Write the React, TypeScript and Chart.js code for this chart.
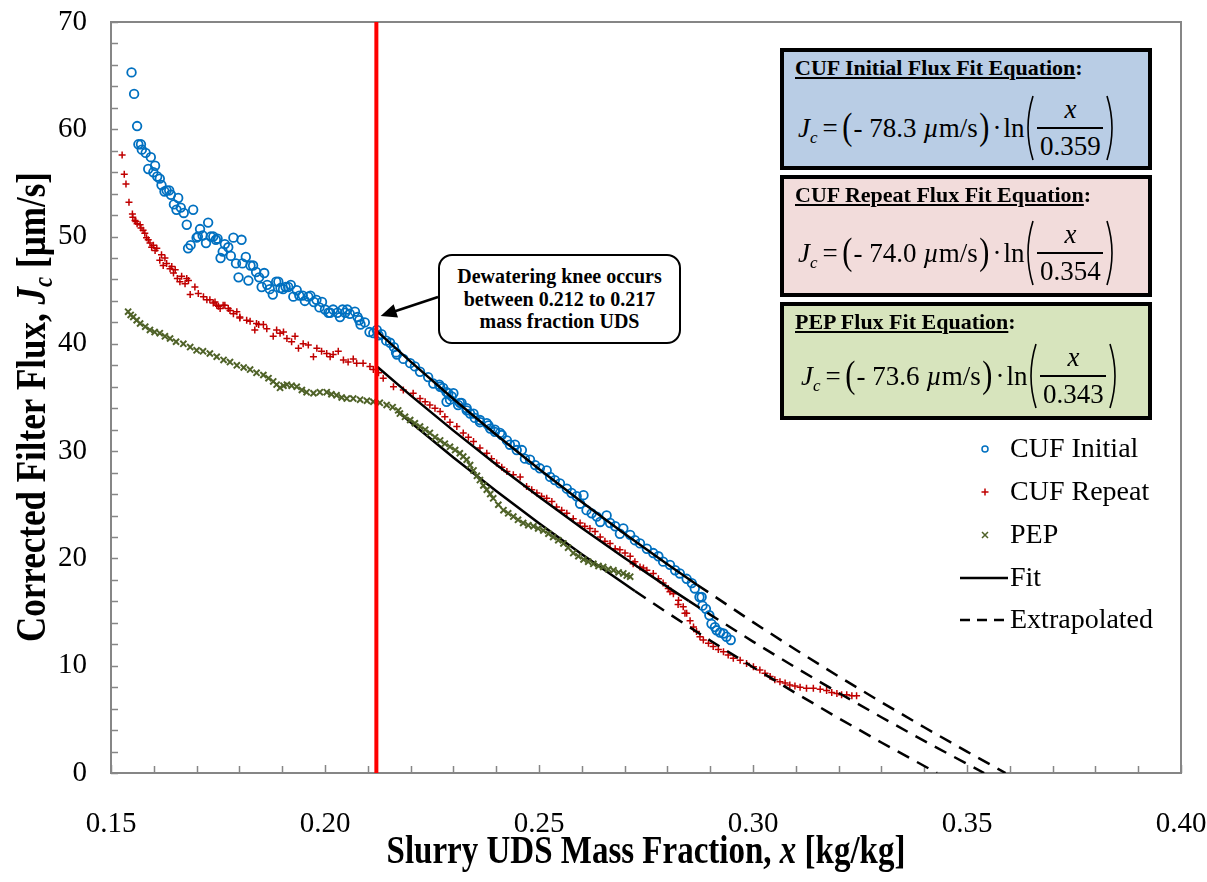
import React, { useEffect, useRef } from 'react';
import { Chart, registerables } from 'chart.js';

Chart.register(...registerables);

const W = 1207;
const H = 882;
const SERIF = "'Liberation Serif', 'Times New Roman', serif";

// ---- axis ticks ----
const xTickValues = [0.15, 0.2, 0.25, 0.3, 0.35, 0.4];
const yTickValues = [0, 10, 20, 30, 40, 50, 60, 70];

// ---- knee ----
const kneeX = 0.212;

// ---- CUF Initial (blue circles) ----
const blueX = [0.1548,0.1554,0.1561,0.1564,0.1570,0.1572,0.1581,0.1587,0.1593,0.1599,0.1603,0.1608,0.1614,0.1618,0.1625,0.1630,0.1636,0.1640,0.1647,0.1653,0.1657,0.1663,0.1670,0.1677,0.1680,0.1686,0.1692,0.1700,0.1703,0.1708,0.1714,0.1722,0.1727,0.1733,0.1739,0.1745,0.1749,0.1756,0.1761,0.1766,0.1774,0.1780,0.1786,0.1792,0.1798,0.1805,0.1807,0.1815,0.1821,0.1826,0.1832,0.1839,0.1846,0.1852,0.1858,0.1865,0.1871,0.1878,0.1886,0.1891,0.1896,0.1902,0.1908,0.1914,0.1920,0.1926,0.1934,0.1940,0.1948,0.1953,0.1961,0.1966,0.1974,0.1980,0.1987,0.1993,0.2000,0.2008,0.2012,0.2019,0.2029,0.2035,0.2041,0.2047,0.2052,0.2058,0.2070,0.2076,0.2080,0.2083,0.2093,0.2104,0.2113,0.2121,0.2125,0.2132,0.2143,0.2152,0.2161,0.2166,0.2168,0.2183,0.2199,0.2210,0.2222,0.2241,0.2253,0.2267,0.2269,0.2276,0.2284,0.2288,0.2284,0.2292,0.2296,0.2300,0.2311,0.2315,0.2319,0.2331,0.2331,0.2339,0.2347,0.2350,0.2362,0.2362,0.2378,0.2382,0.2386,0.2397,0.2397,0.2409,0.2413,0.2425,0.2432,0.2444,0.2448,0.2460,0.2467,0.2479,0.2491,0.2502,0.2518,0.2526,0.2537,0.2549,0.2565,0.2576,0.2588,0.2596,0.2604,0.2611,0.2623,0.2635,0.2643,0.2658,0.2666,0.2678,0.2689,0.2697,0.2713,0.2724,0.2736,0.2752,0.2767,0.2779,0.2790,0.2806,0.2818,0.2829,0.2845,0.2857,0.2864,0.2875,0.2880,0.2882,0.2890,0.2898,0.2903,0.2911,0.2915,0.2923,0.2931,0.2938,0.2948];
const blueY = [65.3,63.3,60.3,58.6,58.6,58.1,57.8,56.3,57.4,56.0,56.6,55.6,55.4,54.8,54.2,54.3,54.3,53.9,53.0,52.5,53.6,52.7,52.2,51.1,48.9,49.2,52.5,49.9,50.0,50.7,50.1,49.4,51.3,50.0,50.0,49.7,49.8,48.0,48.6,49.3,49.0,48.2,49.9,47.5,46.2,49.7,47.5,48.1,45.9,47.3,47.3,46.7,46.2,45.3,46.6,45.5,45.1,44.6,45.8,45.8,45.2,45.1,45.3,45.3,45.5,44.4,45.0,44.5,44.5,44.0,44.4,44.5,43.9,44.1,43.4,43.9,43.2,42.9,42.9,43.2,42.9,42.5,43.2,42.9,43.2,42.8,43.0,42.5,42.2,41.8,42.0,41.1,41.0,41.3,40.8,40.9,40.3,40.1,39.7,39.2,39.0,38.6,38.2,37.9,37.4,36.9,36.3,36.2,36.0,35.9,35.5,35.4,34.6,34.8,35.1,35.4,34.3,34.5,34.5,33.8,34.0,33.5,33.5,33.1,32.7,32.9,32.6,32.4,32.1,31.8,32.0,31.7,31.5,31.0,30.6,30.6,30.1,30.1,29.3,29.2,28.7,28.4,28.2,27.6,27.3,27.0,26.5,26.1,25.8,25.1,25.9,24.5,24.2,23.9,23.4,24.0,23.3,23.0,22.3,22.8,22.2,21.7,21.4,20.9,20.5,20.2,19.7,19.4,18.9,18.6,18.1,17.7,17.2,16.4,16.4,15.6,15.3,14.7,13.9,13.6,13.3,13.1,13.0,12.7,12.4];

// ---- CUF Repeat (red crosses) ----
const redX = [0.1526,0.1531,0.1535,0.1542,0.1550,0.1551,0.1556,0.1558,0.1561,0.1568,0.1570,0.1575,0.1579,0.1583,0.1587,0.1591,0.1595,0.1599,0.1603,0.1607,0.1614,0.1618,0.1622,0.1626,0.1630,0.1638,0.1642,0.1646,0.1650,0.1655,0.1661,0.1665,0.1673,0.1677,0.1681,0.1685,0.1696,0.1704,0.1716,0.1724,0.1731,0.1739,0.1743,0.1747,0.1751,0.1755,0.1762,0.1766,0.1774,0.1778,0.1786,0.1794,0.1801,0.1801,0.1817,0.1825,0.1836,0.1840,0.1845,0.1856,0.1864,0.1879,0.1887,0.1895,0.1903,0.1911,0.1922,0.1930,0.1938,0.1949,0.1961,0.1973,0.1981,0.1992,0.2004,0.2012,0.2019,0.2031,0.2043,0.2054,0.2066,0.2074,0.2089,0.2105,0.2113,0.2125,0.2136,0.2160,0.2183,0.2206,0.2222,0.2234,0.2245,0.2257,0.2269,0.2280,0.2292,0.2308,0.2323,0.2335,0.2347,0.2362,0.2378,0.2389,0.2401,0.2413,0.2425,0.2440,0.2456,0.2471,0.2483,0.2495,0.2506,0.2518,0.2530,0.2541,0.2553,0.2565,0.2580,0.2596,0.2607,0.2619,0.2631,0.2643,0.2654,0.2666,0.2678,0.2689,0.2701,0.2713,0.2720,0.2724,0.2736,0.2744,0.2752,0.2767,0.2779,0.2790,0.2802,0.2806,0.2814,0.2825,0.2826,0.2837,0.2841,0.2845,0.2853,0.2861,0.2868,0.2876,0.2884,0.2896,0.2907,0.2919,0.2931,0.2942,0.2954,0.2970,0.2985,0.3001,0.3016,0.3028,0.3040,0.3051,0.3063,0.3075,0.3086,0.3098,0.3110,0.3125,0.3141,0.3157,0.3172,0.3184,0.3196,0.3207,0.3219,0.3231,0.3242];
const redY = [57.6,55.8,54.9,53.2,52.1,51.8,51.5,51.4,51.2,51.1,50.8,50.6,50.3,49.9,49.7,49.4,49.0,49.2,48.7,48.9,47.8,48.3,47.3,48.0,47.5,47.0,47.2,46.6,46.9,46.1,45.8,46.3,45.6,46.1,45.9,44.6,45.3,44.7,44.4,44.1,44.1,43.8,43.9,43.6,43.5,43.3,43.6,43.6,43.3,43.1,42.8,43.0,42.5,42.4,42.2,42.1,41.3,41.9,41.8,41.8,41.4,40.7,41.3,41.0,41.1,40.5,40.2,40.7,39.6,40.0,39.9,38.8,39.6,39.3,39.1,38.8,39.0,39.3,38.5,38.3,38.6,38.2,38.2,37.9,37.6,37.3,36.8,36.0,35.7,35.4,34.9,34.6,34.3,34.0,33.7,33.2,32.7,32.3,31.7,31.3,30.9,30.3,29.8,29.3,28.9,28.5,28.1,27.8,27.6,26.7,26.4,26.1,25.8,25.6,25.3,24.8,24.5,24.2,23.7,23.3,23.0,22.8,22.5,22.0,21.6,21.4,20.9,20.8,20.5,20.2,19.5,19.7,19.2,19.1,18.9,18.6,18.1,17.7,17.2,16.9,16.7,15.7,16.1,15.5,14.9,14.9,14.2,13.6,13.2,12.7,12.4,12.1,11.8,11.5,11.3,11.0,10.7,10.5,10.2,9.9,9.6,9.3,9.0,8.7,8.5,8.4,8.2,8.1,8.0,7.9,7.9,7.8,7.7,7.5,7.4,7.3,7.3,7.2,7.2];

// ---- PEP (green x) ----
const greenX = [0.1540,0.1546,0.1552,0.1560,0.1568,0.1580,0.1591,0.1602,0.1614,0.1626,0.1638,0.1652,0.1669,0.1685,0.1700,0.1715,0.1731,0.1747,0.1763,0.1778,0.1794,0.1810,0.1825,0.1840,0.1856,0.1868,0.1879,0.1887,0.1895,0.1903,0.1911,0.1922,0.1934,0.1946,0.1957,0.1973,0.1988,0.2004,0.2015,0.2027,0.2039,0.2051,0.2066,0.2082,0.2098,0.2113,0.2128,0.2144,0.2158,0.2171,0.2175,0.2187,0.2199,0.2210,0.2222,0.2234,0.2245,0.2257,0.2269,0.2280,0.2292,0.2304,0.2315,0.2323,0.2331,0.2339,0.2347,0.2355,0.2362,0.2370,0.2378,0.2386,0.2393,0.2405,0.2417,0.2428,0.2440,0.2451,0.2463,0.2475,0.2487,0.2498,0.2510,0.2522,0.2533,0.2545,0.2557,0.2568,0.2580,0.2592,0.2604,0.2615,0.2627,0.2639,0.2650,0.2662,0.2674,0.2686,0.2697,0.2705,0.2713];
const greenY = [43.0,42.7,42.5,42.2,41.9,41.6,41.3,41.1,41.0,40.7,40.5,40.2,40.0,39.7,39.4,39.3,39.1,38.8,38.5,38.3,38.0,37.8,37.6,37.3,37.1,36.8,36.5,36.2,35.9,36.1,36.2,36.1,36.0,35.7,35.5,35.4,35.5,35.5,35.3,35.2,35.0,34.9,34.9,34.8,34.7,34.6,34.5,34.3,34.1,33.8,33.5,33.2,32.9,32.6,32.3,32.0,31.7,31.3,31.0,30.7,30.4,30.1,29.8,29.5,29.2,28.7,28.2,27.7,27.3,26.8,26.4,26.0,25.6,25.0,24.5,24.2,23.9,23.6,23.3,23.1,23.0,22.8,22.6,22.3,22.0,21.7,21.4,21.0,20.5,20.2,19.9,19.7,19.5,19.3,19.2,19.0,18.9,18.7,18.6,18.4,18.3];

// ---- Fit lines (solid) and extrapolations (dashed) ----
const blueFitX = [0.212,0.22,0.23,0.24,0.25,0.26,0.27,0.28,0.287];
const blueFitY = [41.24,38.34,34.86,31.53,28.33,25.26,22.31,19.46,17.53];
const blueExtX = [0.287,0.30,0.31,0.32,0.33,0.34,0.35,0.359];
const blueExtY = [17.53,14.06,11.49,9.00,6.60,4.26,1.99,0];

const redFitX = [0.212,0.22,0.23,0.24,0.25,0.26,0.27,0.28,0.285];
const redFitY = [37.94,35.20,31.91,28.76,25.74,22.84,20.04,17.35,16.04];
const redExtX = [0.285,0.29,0.30,0.31,0.32,0.33,0.34,0.354];
const redExtY = [16.04,14.76,12.25,9.82,7.47,5.20,2.99,0];

const greenFitX = [0.217,0.22,0.23,0.24,0.25,0.26,0.2724];
const greenFitY = [33.70,32.69,29.41,26.28,23.28,20.39,16.96];
const greenExtX = [0.2724,0.28,0.29,0.30,0.31,0.32,0.33,0.343];
const greenExtY = [16.96,14.94,12.35,9.86,7.44,5.11,2.84,0];

const BLUE = '#0070C0';
const RED = '#C00000';
const GREEN = '#4F6228';

const pts = (xs: number[], ys: number[]) => xs.map((x, i) => ({ x, y: ys[i] }));

function drawRich(ctx: CanvasRenderingContext2D, parts: { t: string; f: string; dy?: number }[]) {
  let total = 0;
  for (const p of parts) { ctx.font = p.f; total += ctx.measureText(p.t).width; }
  let x = -total / 2;
  for (const p of parts) {
    ctx.font = p.f;
    ctx.fillText(p.t, x, p.dy || 0);
    x += ctx.measureText(p.t).width;
  }
}

const overlayPlugin = {
  id: 'overlay',
  beforeDatasetsDraw(chart: any) {
    const { ctx, chartArea: a, scales } = chart;
    const xs = scales.x, ys = scales.y;
    ctx.save();
    ctx.strokeStyle = '#868686';
    ctx.lineWidth = 2;
    ctx.strokeRect(a.left, a.top, a.right - a.left, a.bottom - a.top);
    ctx.lineWidth = 1.5;
    ctx.beginPath();
    for (let i = 15; i <= 40; i++) {
      const px = Math.round(xs.getPixelForValue(i / 100)) + 0.5;
      const len = i % 5 === 0 ? 8 : 7;
      ctx.moveTo(px, a.bottom);
      ctx.lineTo(px, a.bottom - len);
    }
    for (let j = 0; j <= 70; j += 2) {
      const py = Math.round(ys.getPixelForValue(j)) + 0.5;
      ctx.moveTo(a.left, py);
      ctx.lineTo(a.left + 7, py);
    }
    ctx.stroke();
    ctx.restore();
  },
  afterDraw(chart: any) {
    const { ctx, scales } = chart;
    const xs = scales.x, ys = scales.y;
    ctx.save();
    // arrow from callout to knee
    const tipX = xs.getPixelForValue(0.2130);
    const tipY = ys.getPixelForValue(42.6);
    const tailX = 438, tailY = 297;
    const ang = Math.atan2(tipY - tailY, tipX - tailX);
    const hl = 16, hw = 7;
    ctx.strokeStyle = '#000';
    ctx.fillStyle = '#000';
    ctx.lineWidth = 2.5;
    ctx.beginPath();
    ctx.moveTo(tailX, tailY);
    ctx.lineTo(tipX - Math.cos(ang) * hl * 0.8, tipY - Math.sin(ang) * hl * 0.8);
    ctx.stroke();
    ctx.beginPath();
    ctx.moveTo(tipX, tipY);
    ctx.lineTo(tipX - Math.cos(ang) * hl - Math.sin(ang) * hw, tipY - Math.sin(ang) * hl + Math.cos(ang) * hw);
    ctx.lineTo(tipX - Math.cos(ang) * hl + Math.sin(ang) * hw, tipY - Math.sin(ang) * hl - Math.cos(ang) * hw);
    ctx.closePath();
    ctx.fill();

    // legend
    const lx = 985, tx = 1010;
    const rows = [449, 492, 535, 578, 620];
    ctx.font = `28px ${SERIF}`;
    ctx.textBaseline = 'middle';
    ctx.fillStyle = '#000';
    const labels = ['CUF Initial', 'CUF Repeat', 'PEP', 'Fit', 'Extrapolated'];
    labels.forEach((l, i) => ctx.fillText(l, tx, rows[i] + 1));
    ctx.lineWidth = 1.5;
    ctx.strokeStyle = BLUE;
    ctx.beginPath(); ctx.arc(lx, rows[0], 3, 0, Math.PI * 2); ctx.stroke();
    ctx.strokeStyle = RED;
    ctx.beginPath();
    ctx.moveTo(lx - 3.5, rows[1]); ctx.lineTo(lx + 3.5, rows[1]);
    ctx.moveTo(lx, rows[1] - 3.5); ctx.lineTo(lx, rows[1] + 3.5);
    ctx.stroke();
    ctx.strokeStyle = GREEN;
    ctx.beginPath();
    ctx.moveTo(lx - 3, rows[2] - 3); ctx.lineTo(lx + 3, rows[2] + 3);
    ctx.moveTo(lx - 3, rows[2] + 3); ctx.lineTo(lx + 3, rows[2] - 3);
    ctx.stroke();
    ctx.strokeStyle = '#000';
    ctx.lineWidth = 2.5;
    ctx.beginPath(); ctx.moveTo(960, rows[3]); ctx.lineTo(1008, rows[3]); ctx.stroke();
    ctx.setLineDash([10, 7]);
    ctx.beginPath(); ctx.moveTo(960, rows[4]); ctx.lineTo(1008, rows[4]); ctx.stroke();
    ctx.setLineDash([]);

    // axis titles
    ctx.fillStyle = '#000';
    ctx.textBaseline = 'alphabetic';
    ctx.save();
    ctx.translate(646, 863);
    ctx.scale(1, 1.22);
    drawRich(ctx, [
      { t: 'Slurry UDS Mass Fraction, ', f: `bold 33px ${SERIF}` },
      { t: 'x', f: `italic bold 33px ${SERIF}` },
      { t: ' [kg/kg]', f: `bold 33px ${SERIF}` },
    ]);
    ctx.restore();

    ctx.save();
    ctx.translate(45, 407);
    ctx.rotate(-Math.PI / 2);
    ctx.scale(1, 1.22);
    drawRich(ctx, [
      { t: 'Corrected Filter Flux, ', f: `bold 35px ${SERIF}` },
      { t: 'J', f: `italic bold 35px ${SERIF}` },
      { t: 'c', f: `italic bold 23px ${SERIF}`, dy: 6 },
      { t: ' [\u00b5m/s]', f: `bold 35px ${SERIF}` },
    ]);
    ctx.restore();
    ctx.restore();
  },
};

function BigParen({ left }: { left: boolean }) {
  return (
    <svg width={11} height={68} style={{ display: 'block' }}>
      <path d={left ? 'M9,2 Q-1,34 9,66' : 'M2,2 Q12,34 2,66'} stroke="#000" strokeWidth={1.6} fill="none" />
    </svg>
  );
}

function EqBox(props: { top: number; height: number; bg: string; title: string; coef: string; denom: string; eqTop: number; eqLeft: number }) {
  const { top, height, bg, title, coef, denom, eqTop, eqLeft } = props;
  return (
    <div style={{ position: 'absolute', left: 780, top, width: 372, height, background: bg, border: '4px solid #000', boxSizing: 'border-box', fontFamily: SERIF, color: '#000' }}>
      <div style={{ position: 'absolute', left: 11, top: 3, fontSize: 22, fontWeight: 'bold', whiteSpace: 'nowrap' }}>
        <span style={{ textDecoration: 'underline' }}>{title}</span>:
      </div>
      <div style={{ position: 'absolute', left: eqLeft, top: eqTop, display: 'flex', alignItems: 'center', fontSize: 27, lineHeight: 1, whiteSpace: 'nowrap' }}>
        <span style={{ fontStyle: 'italic' }}>J</span>
        <span style={{ fontStyle: 'italic', fontSize: 17, position: 'relative', top: 9, marginLeft: 0 }}>c</span>
        <span style={{ margin: '0 3px 0 5px' }}>=</span>
        <span style={{ fontSize: 38, display: 'inline-block', transform: 'scaleX(0.8)', position: 'relative', top: -2 }}>(</span>
        <span>-&nbsp;{coef}&nbsp;</span>
        <span style={{ fontStyle: 'italic' }}>{'\u00b5'}</span>
        <span>m/s</span>
        <span style={{ fontSize: 38, display: 'inline-block', transform: 'scaleX(0.8)', position: 'relative', top: -2 }}>)</span>
        <span style={{ margin: '0 2px' }}>{'\u00b7'}</span>
        <span>ln</span>
        <BigParen left={true} />
        <span style={{ display: 'inline-flex', flexDirection: 'column', alignItems: 'center', margin: '0 2px' }}>
          <span style={{ fontStyle: 'italic', paddingBottom: 4 }}>x</span>
          <span style={{ width: 66, height: 2, background: '#000' }} />
          <span style={{ paddingTop: 4 }}>{denom}</span>
        </span>
        <BigParen left={false} />
      </div>
    </div>
  );
}

export default function App() {
  const ref = useRef<HTMLCanvasElement>(null);
  useEffect(() => {
    const lineDs = (xs: number[], ys: number[], dashed: boolean) => ({
      data: pts(xs, ys),
      showLine: true,
      borderColor: '#000',
      borderWidth: 2.5,
      borderDash: dashed ? [13, 9] : [],
      pointRadius: 0,
      fill: false,
      tension: 0,
    });
    const zeroPad = (s: any) => { s.paddingLeft = 0; s.paddingRight = 0; s.paddingTop = 0; s.paddingBottom = 0; };
    const chart = new Chart(ref.current as HTMLCanvasElement, {
      type: 'scatter',
      data: {
        datasets: [
          { label: 'Knee', data: [{ x: kneeX, y: 0 }, { x: kneeX, y: 70 }], showLine: true, borderColor: '#FF0000', borderWidth: 4, pointRadius: 0 } as any,
          { label: 'PEP', data: pts(greenX, greenY), pointStyle: 'crossRot', pointRadius: 4.3, borderColor: GREEN, backgroundColor: GREEN, pointBorderWidth: 2 } as any,
          { label: 'Fit', ...lineDs(blueFitX, blueFitY, false) },
          { label: 'Fit', ...lineDs(redFitX, redFitY, false) },
          { label: 'Fit', ...lineDs(greenFitX, greenFitY, false) },
          { label: 'Extrapolated', ...lineDs(blueExtX, blueExtY, true) },
          { label: 'Extrapolated', ...lineDs(redExtX, redExtY, true) },
          { label: 'Extrapolated', ...lineDs(greenExtX, greenExtY, true) },
          { label: 'CUF Repeat', data: pts(redX, redY), pointStyle: 'cross', pointRadius: 3.5, borderColor: RED, backgroundColor: RED, pointBorderWidth: 1.5 } as any,
          { label: 'CUF Initial', data: pts(blueX, blueY), pointStyle: 'circle', pointRadius: 4.3, borderColor: BLUE, backgroundColor: 'rgba(0,0,0,0)', pointBorderWidth: 1.8 } as any,
        ],
      },
      options: {
        responsive: false,
        animation: false,
        devicePixelRatio: 1,
        layout: { padding: { top: 22, right: 26, left: 0, bottom: 0 } },
        plugins: { legend: { display: false }, tooltip: { enabled: false } },
        scales: {
          x: {
            type: 'linear',
            min: 0.15,
            max: 0.4,
            grid: { display: false, drawTicks: false },
            border: { display: false },
            afterFit: (s: any) => { s.height = 109; zeroPad(s); },
            afterBuildTicks: (s: any) => { s.ticks = xTickValues.map((v) => ({ value: v })); },
            ticks: { autoSkip: false, padding: 34, color: '#000', font: { family: SERIF, size: 29 }, callback: (v: any) => Number(v).toFixed(2), maxRotation: 0 },
          },
          y: {
            type: 'linear',
            min: 0,
            max: 70,
            grid: { display: false, drawTicks: false },
            border: { display: false },
            afterFit: (s: any) => { s.width = 111; zeroPad(s); },
            afterBuildTicks: (s: any) => { s.ticks = yTickValues.map((v) => ({ value: v })); },
            ticks: { autoSkip: false, padding: 24, color: '#000', font: { family: SERIF, size: 29 }, callback: (v: any) => String(v) },
          },
        },
      } as any,
      plugins: [overlayPlugin as any],
    });
    return () => chart.destroy();
  }, []);

  return (
    <div style={{ position: 'fixed', left: 0, top: 0, width: W, height: H, background: '#fff', overflow: 'hidden' }}>
      <canvas ref={ref} width={W} height={H} style={{ width: W, height: H, display: 'block' }} />
      <div style={{ position: 'absolute', left: 438, top: 254, width: 243, height: 90, border: '2.5px solid #000', borderRadius: 14, background: '#fff', boxSizing: 'border-box', fontFamily: SERIF, fontWeight: 'bold', fontSize: 20, lineHeight: '22.5px', textAlign: 'center', paddingTop: 9, color: '#000' }}>
        Dewatering knee occurs<br />between 0.212 to 0.217<br />mass fraction UDS
      </div>
      <EqBox top={48} height={122} bg="#B9CDE5" title="CUF Initial Flux Fit Equation" coef="78.3" denom="0.359" eqTop={42} eqLeft={14} />
      <EqBox top={175} height={122} bg="#F2DCDB" title="CUF Repeat Flux Fit Equation" coef="74.0" denom="0.354" eqTop={40} eqLeft={14} />
      <EqBox top={302} height={118} bg="#D7E4BD" title="PEP Flux Fit Equation" coef="73.6" denom="0.343" eqTop={36} eqLeft={17} />
    </div>
  );
}
